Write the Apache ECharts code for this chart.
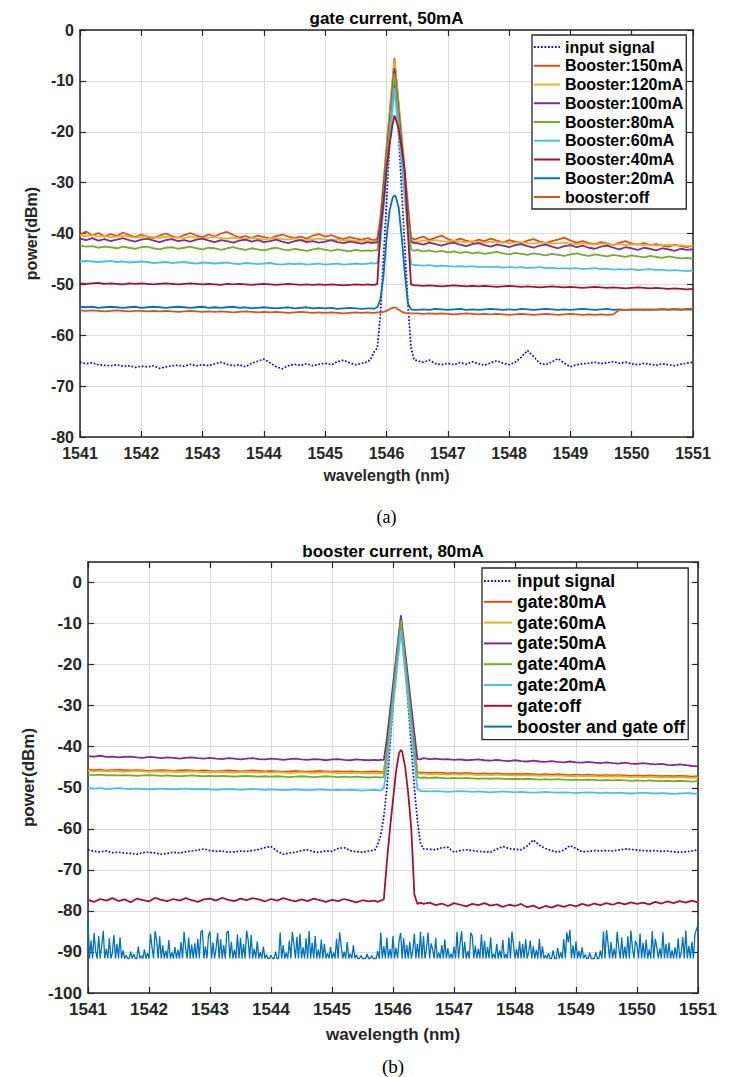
<!DOCTYPE html>
<html><head><meta charset="utf-8">
<script src="https://cdn.jsdelivr.net/npm/echarts@6/dist/echarts.min.js"></script>
<style>html,body{margin:0;padding:0;background:#fff}#c{width:752px;height:1077px}</style>
</head><body><div id="c"></div>
<script>
// ---------- wavelength grids (nm) ----------
const WL = [
1541,1541.1,1541.2,1541.3,1541.4,1541.5,1541.6,1541.7,1541.8,1541.9,
1542,1542.1,1542.2,1542.3,1542.4,1542.5,1542.6,1542.7,1542.8,1542.9,
1543,1543.1,1543.2,1543.3,1543.4,1543.5,1543.6,1543.7,1543.8,1543.9,
1544,1544.1,1544.2,1544.3,1544.4,1544.5,1544.6,1544.7,1544.8,1544.9,
1545,1545.1,1545.2,1545.3,1545.4,1545.5,1545.6,1545.7,
1545.75,1545.8,1545.85,1545.9,1545.95,1546,1546.05,1546.1,1546.13,1546.15,1546.2,1546.25,1546.3,1546.35,1546.4,1546.45,
1546.5,1546.6,1546.7,1546.8,1546.9,1547,1547.1,1547.2,1547.3,1547.4,
1547.5,1547.6,1547.7,1547.8,1547.9,1548,1548.1,1548.2,1548.3,1548.4,
1548.5,1548.6,1548.7,1548.8,1548.9,1549,1549.1,1549.2,1549.3,1549.4,
1549.5,1549.6,1549.7,1549.8,1549.9,1550,1550.1,1550.2,1550.3,1550.4,
1550.5,1550.6,1550.7,1550.8,1550.9,1551
];
const WL_FINE = [
1541,1541.025,1541.05,1541.075,1541.1,1541.125,1541.15,1541.175,1541.2,1541.225,1541.25,1541.275,1541.3,1541.325,1541.35,1541.375,1541.4,1541.425,1541.45,1541.475,1541.5,1541.525,1541.55,1541.575,1541.6,1541.625,1541.65,1541.675,1541.7,1541.725,1541.75,1541.775,1541.8,1541.825,1541.85,1541.875,1541.9,1541.925,1541.95,1541.975,
1542,1542.025,1542.05,1542.075,1542.1,1542.125,1542.15,1542.175,1542.2,1542.225,1542.25,1542.275,1542.3,1542.325,1542.35,1542.375,1542.4,1542.425,1542.45,1542.475,1542.5,1542.525,1542.55,1542.575,1542.6,1542.625,1542.65,1542.675,1542.7,1542.725,1542.75,1542.775,1542.8,1542.825,1542.85,1542.875,1542.9,1542.925,1542.95,1542.975,
1543,1543.025,1543.05,1543.075,1543.1,1543.125,1543.15,1543.175,1543.2,1543.225,1543.25,1543.275,1543.3,1543.325,1543.35,1543.375,1543.4,1543.425,1543.45,1543.475,1543.5,1543.525,1543.55,1543.575,1543.6,1543.625,1543.65,1543.675,1543.7,1543.725,1543.75,1543.775,1543.8,1543.825,1543.85,1543.875,1543.9,1543.925,1543.95,1543.975,
1544,1544.025,1544.05,1544.075,1544.1,1544.125,1544.15,1544.175,1544.2,1544.225,1544.25,1544.275,1544.3,1544.325,1544.35,1544.375,1544.4,1544.425,1544.45,1544.475,1544.5,1544.525,1544.55,1544.575,1544.6,1544.625,1544.65,1544.675,1544.7,1544.725,1544.75,1544.775,1544.8,1544.825,1544.85,1544.875,1544.9,1544.925,1544.95,1544.975,
1545,1545.025,1545.05,1545.075,1545.1,1545.125,1545.15,1545.175,1545.2,1545.225,1545.25,1545.275,1545.3,1545.325,1545.35,1545.375,1545.4,1545.425,1545.45,1545.475,1545.5,1545.525,1545.55,1545.575,1545.6,1545.625,1545.65,1545.675,1545.7,1545.725,1545.75,1545.775,1545.8,1545.825,1545.85,1545.875,1545.9,1545.925,1545.95,1545.975,
1546,1546.025,1546.05,1546.075,1546.1,1546.125,1546.15,1546.175,1546.2,1546.225,1546.25,1546.275,1546.3,1546.325,1546.35,1546.375,1546.4,1546.425,1546.45,1546.475,1546.5,1546.525,1546.55,1546.575,1546.6,1546.625,1546.65,1546.675,1546.7,1546.725,1546.75,1546.775,1546.8,1546.825,1546.85,1546.875,1546.9,1546.925,1546.95,1546.975,
1547,1547.025,1547.05,1547.075,1547.1,1547.125,1547.15,1547.175,1547.2,1547.225,1547.25,1547.275,1547.3,1547.325,1547.35,1547.375,1547.4,1547.425,1547.45,1547.475,1547.5,1547.525,1547.55,1547.575,1547.6,1547.625,1547.65,1547.675,1547.7,1547.725,1547.75,1547.775,1547.8,1547.825,1547.85,1547.875,1547.9,1547.925,1547.95,1547.975,
1548,1548.025,1548.05,1548.075,1548.1,1548.125,1548.15,1548.175,1548.2,1548.225,1548.25,1548.275,1548.3,1548.325,1548.35,1548.375,1548.4,1548.425,1548.45,1548.475,1548.5,1548.525,1548.55,1548.575,1548.6,1548.625,1548.65,1548.675,1548.7,1548.725,1548.75,1548.775,1548.8,1548.825,1548.85,1548.875,1548.9,1548.925,1548.95,1548.975,
1549,1549.025,1549.05,1549.075,1549.1,1549.125,1549.15,1549.175,1549.2,1549.225,1549.25,1549.275,1549.3,1549.325,1549.35,1549.375,1549.4,1549.425,1549.45,1549.475,1549.5,1549.525,1549.55,1549.575,1549.6,1549.625,1549.65,1549.675,1549.7,1549.725,1549.75,1549.775,1549.8,1549.825,1549.85,1549.875,1549.9,1549.925,1549.95,1549.975,
1550,1550.025,1550.05,1550.075,1550.1,1550.125,1550.15,1550.175,1550.2,1550.225,1550.25,1550.275,1550.3,1550.325,1550.35,1550.375,1550.4,1550.425,1550.45,1550.475,1550.5,1550.525,1550.55,1550.575,1550.6,1550.625,1550.65,1550.675,1550.7,1550.725,1550.75,1550.775,1550.8,1550.825,1550.85,1550.875,1550.9,1550.925,1550.95,1550.975,
1551
];

// ---------- (a) gate current 50mA : power (dBm) on WL ----------
const A_INPUT = [
-65.3,-65.6,-65.4,-65.8,-65.9,-66.0,-65.8,-66.1,-66.0,-66.3,
-66.1,-66.2,-66.0,-66.5,-66.2,-66.0,-65.9,-66.1,-65.7,-66.0,
-65.8,-66.0,-65.6,-65.3,-65.7,-66.0,-65.8,-66.2,-65.5,-65.1,
-64.7,-65.4,-66.2,-66.6,-66.0,-65.7,-65.9,-65.6,-66.0,-65.7,
-65.5,-65.8,-65.2,-64.9,-65.4,-65.8,-65.5,-65.2,
-64.5,-63.2,-62.5,-56.0,-45.0,-34.0,-23.0,-13.0,-10.5,-12.0,-21.0,-32.0,-43.0,-54.0,-62.5,-64.8,
-65.0,-65.3,-64.9,-65.6,-65.8,-65.5,-65.8,-65.4,-65.7,-65.2,
-65.6,-65.9,-65.4,-65.0,-65.5,-65.8,-65.3,-64.3,-63.0,-64.2,
-65.5,-65.8,-65.2,-64.6,-65.5,-66.2,-65.8,-65.6,-65.5,-65.3,
-65.6,-65.4,-65.2,-65.5,-65.3,-65.6,-65.8,-65.5,-65.7,-65.9,
-65.6,-65.8,-66.0,-65.7,-65.5,-65.3
];
const A_B150 = [
-40.2,-39.6,-40.4,-39.9,-40.6,-40.1,-40.5,-39.8,-40.3,-40.7,
-40.2,-40.6,-40.9,-40.4,-40.0,-40.5,-40.8,-40.3,-39.9,-40.4,
-40.7,-40.2,-40.6,-40.0,-39.7,-40.3,-40.8,-40.5,-40.9,-40.4,
-40.7,-41.0,-40.5,-40.2,-40.6,-40.9,-40.6,-41.0,-40.4,-40.1,
-40.6,-40.3,-40.8,-41.1,-40.7,-41.0,-41.2,-40.9,
-41.2,-41.3,-41.0,-36.9,-30.1,-23.2,-16.4,-9.6,-5.5,-8.1,-14.7,-21.3,-27.9,-34.4,-40.8,-41.2,
-41.0,-40.6,-41.3,-40.8,-40.4,-41.1,-41.5,-41.0,-41.4,-41.7,
-41.2,-41.5,-41.0,-41.4,-41.8,-41.3,-41.6,-41.9,-41.4,-41.1,
-41.6,-41.9,-41.5,-41.2,-40.8,-41.4,-41.8,-41.5,-41.9,-42.1,
-41.7,-42.0,-42.3,-41.8,-41.5,-42.0,-42.2,-41.9,-42.3,-42.1,
-42.4,-42.6,-42.2,-42.5,-42.7,-42.4
];
const A_B120 = [
-40.4,-40.5,-40.3,-40.6,-40.5,-40.7,-40.6,-40.4,-40.6,-40.8,
-40.7,-40.5,-40.7,-40.9,-40.6,-40.8,-40.7,-40.9,-40.6,-40.8,
-41.0,-40.8,-40.7,-40.9,-41.0,-40.8,-41.0,-41.1,-40.9,-41.0,
-41.2,-41.0,-40.9,-41.1,-41.2,-41.0,-41.2,-41.3,-41.1,-41.0,
-41.2,-41.3,-41.2,-41.4,-41.3,-41.5,-41.4,-41.5,
-41.5,-41.6,-41.5,-37.4,-30.6,-23.7,-16.9,-10.1,-6.0,-8.6,-15.2,-21.8,-28.4,-34.9,-41.3,-41.6,
-41.6,-41.4,-41.5,-41.3,-41.5,-41.6,-41.4,-41.6,-41.7,-41.5,
-41.7,-41.8,-41.6,-41.8,-41.7,-41.9,-41.8,-41.7,-41.9,-42.0,
-41.8,-41.9,-42.0,-41.9,-41.8,-42.0,-42.1,-41.9,-42.1,-42.2,
-42.0,-42.1,-42.2,-42.1,-42.3,-42.2,-42.1,-42.3,-42.2,-42.4,
-42.3,-42.2,-42.4,-42.3,-42.5,-42.4
];
const A_B100 = [
-41.0,-41.3,-40.9,-41.4,-41.1,-41.5,-41.2,-40.9,-41.3,-41.6,
-41.2,-41.0,-41.4,-41.7,-41.3,-41.1,-41.5,-41.3,-41.6,-41.2,
-41.0,-41.4,-41.7,-41.3,-41.5,-41.8,-41.4,-41.2,-41.6,-41.3,
-41.7,-41.5,-41.2,-41.6,-41.9,-41.5,-41.3,-41.7,-41.5,-41.8,
-41.6,-41.3,-41.7,-41.9,-41.6,-41.8,-42.0,-41.7,
-41.9,-41.8,-41.8,-37.9,-31.2,-24.7,-18.1,-11.4,-7.5,-10.0,-16.4,-22.7,-29.1,-35.5,-41.6,-41.9,
-41.9,-42.2,-41.8,-42.1,-42.4,-42.0,-41.8,-42.2,-42.5,-42.1,
-41.9,-42.3,-42.6,-42.2,-42.4,-42.7,-42.3,-42.1,-42.5,-42.8,
-42.4,-42.2,-42.6,-42.9,-42.5,-42.3,-42.7,-42.4,-42.8,-43.0,
-42.6,-42.4,-42.8,-43.1,-42.7,-42.9,-43.2,-42.8,-43.0,-43.3,
-42.9,-43.1,-43.4,-43.0,-43.2,-43.1
];
const A_B80 = [
-42.4,-42.6,-42.5,-42.8,-42.6,-42.7,-42.9,-42.6,-42.8,-43.0,
-42.7,-42.6,-42.9,-43.1,-42.8,-42.7,-43.0,-42.8,-42.6,-42.9,
-43.1,-42.8,-42.9,-43.2,-42.9,-42.7,-43.0,-43.2,-42.9,-43.1,
-43.3,-43.0,-42.8,-43.1,-43.3,-43.0,-43.2,-43.4,-43.1,-42.9,
-43.2,-43.4,-43.1,-43.3,-43.5,-43.2,-43.4,-43.3,
-43.4,-43.3,-43.3,-39.3,-32.6,-25.9,-19.2,-12.5,-8.5,-11.1,-17.5,-24.0,-30.4,-36.9,-43.1,-43.4,
-43.2,-43.5,-43.3,-43.6,-43.4,-43.7,-43.5,-43.8,-43.6,-43.9,
-43.7,-44.0,-43.8,-43.6,-43.9,-44.1,-43.8,-44.0,-44.2,-43.9,
-44.1,-44.3,-44.0,-44.2,-44.4,-44.1,-43.9,-44.2,-44.4,-44.1,
-44.3,-44.5,-44.2,-44.4,-44.6,-44.3,-44.5,-44.7,-44.4,-44.6,
-44.8,-44.5,-44.7,-44.9,-44.8,-45.0
];
const A_B60 = [
-45.5,-45.4,-45.5,-45.6,-45.5,-45.4,-45.6,-45.5,-45.7,-45.6,
-45.5,-45.6,-45.8,-45.7,-45.6,-45.8,-45.7,-45.6,-45.8,-45.9,
-45.7,-45.8,-45.9,-45.8,-45.7,-45.9,-46.0,-45.8,-45.9,-46.0,
-45.9,-45.8,-46.0,-46.1,-45.9,-46.0,-45.9,-46.1,-46.0,-45.9,
-46.1,-46.0,-45.9,-46.1,-46.0,-45.9,-46.0,-45.9,
-45.8,-45.9,-45.8,-42.0,-35.4,-28.8,-22.1,-15.5,-11.5,-14.1,-20.4,-26.8,-33.2,-39.6,-46.0,-46.2,
-46.2,-46.3,-46.2,-46.4,-46.3,-46.4,-46.5,-46.4,-46.5,-46.4,
-46.6,-46.5,-46.6,-46.5,-46.7,-46.6,-46.7,-46.6,-46.8,-46.7,
-46.6,-46.8,-46.7,-46.9,-46.8,-46.9,-46.8,-47.0,-46.9,-46.8,
-47.0,-46.9,-47.1,-47.0,-47.1,-47.0,-47.2,-47.1,-47.0,-47.2,
-47.1,-47.3,-47.2,-47.3,-47.4,-47.3
];
const A_B40 = [
-49.8,-49.9,-49.8,-49.7,-49.9,-49.8,-49.9,-50.0,-49.8,-49.9,
-49.8,-49.9,-50.0,-49.9,-49.8,-49.9,-50.0,-49.9,-49.8,-49.9,
-50.0,-49.9,-50.0,-50.1,-49.9,-50.0,-49.9,-50.0,-50.1,-50.0,
-49.9,-50.0,-50.1,-50.0,-49.9,-50.0,-50.1,-50.0,-50.1,-50.0,
-50.1,-50.0,-50.1,-50.2,-50.1,-50.0,-50.1,-50.0,
-50.1,-50.1,-49.9,-39.5,-34.0,-27.5,-22.5,-18.5,-16.8,-17.5,-19.5,-23.5,-28.0,-40.0,-50.0,-50.2,
-50.2,-50.3,-50.2,-50.3,-50.4,-50.3,-50.2,-50.3,-50.4,-50.3,
-50.4,-50.3,-50.4,-50.5,-50.4,-50.3,-50.4,-50.5,-50.4,-50.5,
-50.6,-50.5,-50.4,-50.5,-50.6,-50.5,-50.6,-50.7,-50.6,-50.5,
-50.6,-50.7,-50.6,-50.7,-50.8,-50.7,-50.6,-50.7,-50.8,-50.7,
-50.8,-50.9,-50.8,-50.9,-51.0,-50.9
];
const A_B20 = [
-54.4,-54.5,-54.4,-54.6,-54.5,-54.4,-54.5,-54.6,-54.5,-54.4,
-54.6,-54.5,-54.4,-54.5,-54.6,-54.5,-54.4,-54.5,-54.6,-54.5,
-54.4,-54.6,-54.5,-54.6,-54.5,-54.4,-54.6,-54.5,-54.7,-54.6,
-54.5,-54.6,-54.7,-54.6,-54.5,-54.7,-54.6,-54.5,-54.7,-54.6,
-54.7,-54.6,-54.8,-54.7,-54.6,-54.7,-54.8,-54.7,
-54.7,-54.8,-54.5,-53.0,-48.5,-41.0,-35.5,-33.0,-32.5,-32.7,-35.0,-41.0,-48.0,-53.8,-54.9,-55.0,
-55.0,-54.9,-55.0,-54.8,-54.9,-55.0,-54.9,-54.8,-55.0,-54.9,
-55.0,-54.9,-54.8,-54.9,-55.0,-54.9,-55.0,-54.8,-54.9,-55.0,
-54.9,-54.8,-54.9,-55.0,-54.9,-55.0,-54.9,-54.8,-54.9,-55.0,
-54.9,-54.8,-55.0,-54.9,-55.0,-55.0,-54.9,-55.0,-54.9,-55.0,
-54.9,-55.0,-54.9,-55.0,-54.9,-55.0
];
const A_BOFF = [
-55.1,-55.2,-55.1,-55.2,-55.3,-55.2,-55.1,-55.2,-55.3,-55.2,
-55.2,-55.3,-55.2,-55.3,-55.2,-55.3,-55.4,-55.3,-55.2,-55.3,
-55.4,-55.3,-55.4,-55.3,-55.4,-55.5,-55.4,-55.3,-55.4,-55.5,
-55.4,-55.5,-55.4,-55.5,-55.6,-55.5,-55.4,-55.5,-55.6,-55.5,
-55.6,-55.5,-55.6,-55.7,-55.6,-55.5,-55.6,-55.5,
-55.6,-55.6,-55.5,-55.5,-55.4,-55.2,-54.9,-54.6,-54.5,-54.6,-55.0,-55.4,-55.6,-55.7,-55.7,-55.7,
-55.7,-55.8,-55.7,-55.8,-55.7,-55.8,-55.9,-55.8,-55.7,-55.8,
-55.9,-55.8,-55.9,-55.8,-55.9,-56.0,-55.9,-55.8,-55.9,-56.0,
-55.9,-55.8,-55.9,-56.0,-55.9,-55.8,-55.9,-56.0,-55.9,-56.0,
-55.9,-56.0,-55.9,-55.0,-55.0,-54.9,-55.0,-54.9,-55.0,-54.9,
-54.8,-54.9,-54.8,-54.9,-54.8,-54.8
];

// ---------- (b) booster current 80mA : power (dBm) on WL ----------
const B_INPUT = [
-65.1,-65.5,-65.6,-65.4,-65.8,-65.7,-65.9,-66.0,-66.2,-65.8,
-65.7,-65.9,-66.2,-66.0,-65.7,-65.9,-65.6,-65.4,-65.2,-64.9,
-65.3,-65.5,-65.4,-65.7,-65.6,-65.4,-65.5,-65.3,-65.0,-64.6,
-64.3,-65.4,-66.2,-65.9,-65.7,-65.3,-65.1,-65.6,-65.7,-65.4,
-65.5,-64.8,-64.6,-65.3,-65.6,-65.7,-65.4,-65.2,
-63.8,-61.5,-57.0,-50.0,-40.0,-30.0,-20.0,-12.5,-10.5,-12.5,-20.0,-30.0,-40.0,-50.0,-58.0,-63.5,
-64.9,-65.0,-65.1,-64.6,-64.5,-65.7,-65.3,-65.1,-65.3,-65.5,
-65.6,-65.7,-65.0,-64.3,-64.8,-65.0,-65.1,-64.2,-62.7,-64.0,
-64.8,-65.3,-65.7,-65.2,-64.1,-64.8,-65.6,-65.5,-65.3,-65.4,
-65.3,-65.4,-65.2,-64.9,-65.0,-65.2,-65.3,-65.4,-65.3,-65.5,
-65.4,-65.6,-65.7,-65.6,-65.4,-65.1
];
const B_G80 = [
-45.6,-45.7,-45.6,-45.8,-45.7,-45.6,-45.7,-45.8,-45.7,-45.8,
-45.9,-45.8,-45.7,-45.8,-45.9,-45.8,-45.7,-45.8,-45.9,-45.8,
-45.9,-46.0,-45.9,-45.8,-45.9,-46.0,-45.9,-45.8,-45.9,-46.0,
-45.9,-46.0,-46.1,-46.0,-45.9,-46.0,-46.1,-46.0,-45.9,-46.0,
-46.1,-46.0,-46.1,-46.0,-46.1,-46.2,-46.1,-46.0,
-46.1,-46.2,-46.1,-40.7,-33.9,-27.1,-20.3,-13.6,-9.5,-12.2,-19.0,-25.8,-32.5,-39.3,-46.1,-46.3,
-46.3,-46.4,-46.3,-46.4,-46.5,-46.4,-46.5,-46.4,-46.5,-46.6,
-46.5,-46.6,-46.5,-46.6,-46.7,-46.6,-46.7,-46.6,-46.7,-46.8,
-46.7,-46.8,-46.7,-46.8,-46.9,-46.8,-46.9,-46.8,-46.9,-47.0,
-46.9,-47.0,-46.9,-47.0,-47.1,-47.0,-47.1,-47.0,-47.1,-47.2,
-47.1,-47.2,-47.1,-47.2,-47.3,-47.2
];
const B_G60 = [
-45.9,-46.0,-45.9,-46.0,-45.9,-46.0,-46.1,-46.0,-45.9,-46.0,
-46.1,-46.0,-46.1,-46.0,-46.1,-46.2,-46.1,-46.0,-46.1,-46.2,
-46.1,-46.2,-46.1,-46.2,-46.3,-46.2,-46.1,-46.2,-46.3,-46.2,
-46.3,-46.2,-46.3,-46.4,-46.3,-46.2,-46.3,-46.4,-46.3,-46.2,
-46.3,-46.4,-46.3,-46.4,-46.3,-46.4,-46.5,-46.4,
-46.4,-46.5,-46.4,-41.0,-34.2,-27.4,-20.6,-13.9,-9.8,-12.5,-19.3,-26.1,-32.9,-39.6,-46.4,-46.6,
-46.6,-46.7,-46.6,-46.7,-46.8,-46.7,-46.8,-46.7,-46.8,-46.9,
-46.8,-46.9,-46.8,-46.9,-47.0,-46.9,-47.0,-46.9,-47.0,-47.1,
-47.0,-47.1,-47.0,-47.1,-47.2,-47.1,-47.2,-47.1,-47.2,-47.3,
-47.2,-47.3,-47.2,-47.3,-47.4,-47.3,-47.4,-47.3,-47.4,-47.5,
-47.4,-47.5,-47.4,-47.5,-47.6,-47.5
];
const B_G50 = [
-42.3,-42.4,-42.2,-42.5,-42.4,-42.6,-42.5,-42.4,-42.6,-42.7,
-42.5,-42.6,-42.8,-42.6,-42.7,-42.9,-42.7,-42.6,-42.8,-42.9,
-42.7,-42.9,-43.0,-42.8,-42.9,-43.1,-42.9,-42.8,-43.0,-43.1,
-42.9,-43.0,-43.2,-43.0,-42.9,-43.1,-43.2,-43.0,-43.1,-43.3,
-43.1,-43.0,-43.2,-43.3,-43.1,-43.2,-43.3,-43.2,
-43.3,-43.2,-43.2,-38.0,-31.5,-24.9,-18.4,-11.9,-8.0,-10.6,-17.1,-23.6,-30.2,-36.7,-43.0,-43.1,
-42.8,-43.0,-42.9,-43.1,-43.0,-43.2,-43.1,-43.3,-43.2,-43.1,
-43.3,-43.4,-43.2,-43.4,-43.5,-43.3,-43.5,-43.6,-43.4,-43.6,
-43.7,-43.5,-43.7,-43.8,-43.6,-43.8,-43.9,-43.7,-43.9,-44.0,
-43.8,-44.0,-44.1,-43.9,-44.1,-44.2,-44.0,-44.2,-44.3,-44.2,
-44.4,-44.5,-44.3,-44.5,-44.7,-44.8
];
const B_G40 = [
-46.8,-46.9,-46.8,-47.0,-46.9,-47.0,-46.9,-47.0,-47.1,-47.0,
-46.9,-47.0,-47.1,-47.0,-47.1,-47.2,-47.1,-47.0,-47.1,-47.2,
-47.1,-47.2,-47.1,-47.2,-47.3,-47.2,-47.1,-47.2,-47.3,-47.2,
-47.3,-47.2,-47.3,-47.4,-47.3,-47.2,-47.3,-47.4,-47.3,-47.2,
-47.3,-47.4,-47.3,-47.4,-47.3,-47.4,-47.5,-47.4,
-47.4,-47.5,-47.4,-41.7,-34.7,-27.6,-20.5,-13.4,-9.2,-12.0,-19.1,-26.2,-33.3,-40.3,-47.4,-47.6,
-47.5,-47.6,-47.5,-47.6,-47.7,-47.6,-47.7,-47.6,-47.7,-47.8,
-47.7,-47.8,-47.7,-47.8,-47.9,-47.8,-47.9,-47.8,-47.9,-48.0,
-47.9,-48.0,-47.9,-48.0,-48.1,-48.0,-48.1,-48.0,-48.1,-48.2,
-48.1,-48.2,-48.1,-48.2,-48.3,-48.2,-48.3,-48.2,-48.3,-48.4,
-48.3,-48.4,-48.3,-48.4,-48.5,-48.4
];
const B_G20 = [
-50.1,-50.2,-50.1,-50.3,-50.2,-50.1,-50.2,-50.3,-50.2,-50.3,
-50.4,-50.3,-50.2,-50.3,-50.4,-50.3,-50.2,-50.3,-50.4,-50.3,
-50.4,-50.5,-50.4,-50.3,-50.4,-50.5,-50.4,-50.3,-50.4,-50.5,
-50.4,-50.5,-50.6,-50.5,-50.4,-50.5,-50.6,-50.5,-50.4,-50.5,
-50.6,-50.5,-50.6,-50.5,-50.6,-50.7,-50.6,-50.5,
-50.6,-50.7,-50.0,-44.9,-37.7,-30.5,-23.3,-16.1,-11.8,-14.7,-21.9,-29.0,-36.2,-43.4,-50.3,-50.8,
-50.8,-50.9,-50.8,-50.9,-51.0,-50.9,-50.8,-50.9,-51.0,-50.9,
-51.0,-51.1,-51.0,-50.9,-51.0,-51.1,-51.0,-51.1,-51.2,-51.1,
-51.0,-51.1,-51.2,-51.1,-51.2,-51.3,-51.2,-51.1,-51.2,-51.3,
-51.2,-51.3,-51.2,-51.3,-51.4,-51.3,-51.2,-51.3,-51.4,-51.3,
-51.4,-51.5,-51.4,-51.3,-51.4,-51.5
];
const B_GOFF = [
-77.3,-77.8,-77.1,-77.5,-76.9,-77.6,-77.2,-77.9,-77.0,-77.4,
-77.7,-76.8,-77.3,-77.6,-77.1,-77.5,-76.9,-77.4,-77.8,-77.2,
-77.0,-77.5,-76.8,-77.3,-77.6,-77.0,-77.4,-76.9,-77.2,-77.7,
-77.1,-77.5,-76.9,-77.3,-77.7,-77.2,-77.6,-77.0,-77.4,-77.8,
-77.3,-77.6,-77.1,-77.5,-77.9,-77.4,-77.7,-77.5,
-77.8,-77.5,-77.2,-68.0,-60.0,-53.0,-46.0,-41.5,-40.8,-41.2,-45.0,-51.5,-60.0,-76.0,-78.3,-78.0,
-78.3,-78.0,-78.6,-78.2,-78.8,-78.1,-78.5,-78.9,-78.3,-78.6,
-78.1,-78.7,-78.4,-79.0,-78.5,-78.8,-78.3,-79.1,-78.7,-79.4,
-78.8,-79.2,-78.6,-79.0,-78.5,-78.9,-78.3,-78.7,-78.2,-78.6,
-78.1,-78.5,-78.0,-78.4,-77.9,-78.3,-78.0,-78.4,-77.8,-78.2,
-77.7,-78.1,-77.6,-78.0,-77.5,-77.9
];
// booster and gate off (on WL_FINE)
const B_BGOFF = [
-82.5,-91.6,-87.2,-91.6,-85.4,-89.8,-91.6,-86.1,-91.6,-88.5,
-84.9,-91.6,-89.3,-91.6,-86.7,-91.6,-90.2,-85.8,-91.6,-88.0,
-91.6,-86.4,-91.6,-89.6,-91.6,-90.8,-91.6,-91.6,-89.9,-91.6,
-90.5,-91.6,-91.6,-88.7,-91.6,-90.9,-91.6,-89.4,-91.6,-90.3,
-91.6,-85.6,-88.9,-91.6,-84.9,-87.3,-91.6,-86.2,-91.6,-88.4,
-91.6,-89.7,-91.6,-87.1,-91.6,-90.1,-91.6,-88.8,-91.6,-89.5,
-91.6,-87.6,-91.6,-85.1,-89.0,-91.6,-86.5,-91.6,-88.2,-91.6,
-87.9,-91.6,-86.8,-91.6,-85.2,-84.7,-91.6,-88.6,-91.6,-86.0,
-85.0,-91.6,-87.7,-91.6,-89.1,-85.4,-91.6,-86.9,-91.6,-88.3,
-91.6,-85.3,-84.9,-91.6,-87.5,-91.6,-89.4,-91.6,-85.7,-91.6,
-86.6,-91.6,-88.1,-91.6,-84.8,-87.0,-91.6,-85.9,-91.6,-89.2,
-91.6,-87.4,-91.6,-90.0,-91.6,-88.7,-91.6,-90.6,-91.6,-91.6,
-90.8,-91.6,-91.6,-89.9,-91.6,-91.6,-85.3,-91.6,-88.4,-91.6,
-90.2,-91.6,-87.3,-91.6,-85.1,-88.0,-91.6,-86.3,-91.6,-85.6,
-91.6,-88.9,-91.6,-86.7,-91.6,-84.9,-91.6,-87.8,-91.6,-86.1,
-91.6,-89.4,-91.6,-87.0,-91.6,-88.1,-91.6,-90.3,-91.6,-88.8,
-91.6,-90.2,-91.6,-86.8,-91.6,-85.2,-88.5,-91.6,-89.9,-91.6,
-87.6,-91.6,-90.4,-91.6,-88.4,-91.6,-90.7,-91.6,-91.6,-90.9,
-91.6,-91.6,-91.6,-90.5,-91.6,-91.6,-90.9,-91.6,-91.6,-91.6,
-89.8,-91.6,-85.3,-91.6,-88.6,-91.6,-86.5,-91.6,-89.3,-91.6,
-86.1,-91.6,-89.0,-91.6,-87.2,-85.4,-91.6,-86.7,-91.6,-88.3,
-91.6,-87.5,-91.6,-89.6,-85.6,-91.6,-88.0,-91.6,-85.0,-91.6,
-86.2,-91.6,-89.1,-85.3,-91.6,-87.9,-89.4,-91.6,-86.6,-91.6,
-90.2,-91.6,-88.3,-91.6,-87.0,-91.6,-89.1,-91.6,-90.4,-91.6,
-88.7,-91.6,-85.1,-91.6,-87.9,-84.9,-91.6,-87.6,-91.6,-89.8,
-91.6,-85.3,-86.1,-91.6,-88.5,-91.6,-89.2,-91.6,-85.7,-91.6,
-87.3,-91.6,-88.8,-91.6,-86.4,-91.6,-90.4,-91.6,-88.0,-91.6,
-89.6,-91.6,-87.1,-91.6,-90.5,-91.6,-86.4,-91.6,-85.0,-88.2,
-91.6,-89.3,-91.6,-87.4,-91.6,-88.1,-91.6,-86.9,-91.6,-90.0,
-87.2,-91.6,-88.6,-91.6,-89.5,-91.6,-86.8,-91.6,-88.6,-91.6,
-90.8,-91.6,-90.3,-91.6,-91.6,-89.6,-91.6,-91.6,-89.0,-91.6,
-90.1,-91.6,-86.9,-91.6,-85.2,-87.7,-84.6,-91.6,-88.4,-91.6,
-87.4,-91.6,-89.8,-91.6,-88.9,-91.6,-90.6,-91.6,-91.6,-90.2,
-91.6,-91.6,-91.6,-90.1,-91.6,-91.6,-89.7,-91.6,-85.0,-91.6,
-84.7,-87.9,-91.6,-87.6,-91.6,-89.2,-91.6,-85.1,-88.9,-91.6,
-86.5,-91.6,-88.7,-91.6,-86.2,-91.6,-84.8,-89.0,-91.6,-87.3,
-88.3,-91.6,-85.5,-91.6,-87.8,-91.6,-87.0,-91.6,-89.4,-91.6,
-84.9,-91.6,-86.8,-88.9,-91.6,-89.1,-91.6,-85.2,-91.6,-88.0,
-91.6,-87.7,-91.6,-89.6,-91.6,-88.9,-91.6,-86.7,-91.6,-90.2,
-86.4,-91.6,-84.8,-91.6,-88.5,-91.6,-87.5,-91.6,-85.6,-84.5,
-83.5
];

// ---------- names / ticks ----------
const NAMES_A = ['input signal','Booster:150mA','Booster:120mA','Booster:100mA','Booster:80mA','Booster:60mA','Booster:40mA','Booster:20mA','booster:off'];
const NAMES_B = ['input signal','gate:80mA','gate:60mA','gate:50mA','gate:40mA','gate:20mA','gate:off','booster and gate off'];
const X_RANGE = [1541, 1551, 1];
const Y_RANGE_A = [-80, 0, 10];
const Y_RANGE_B = [-100, 5, 10];

// ---------- styling ----------
const FF = '"Liberation Sans", Arial, Helvetica, sans-serif';
const AX = '#262626';
const C_IN = '#0000ff';
const COLORS_A = ['#D95319','#EDB120','#7E2F8E','#77AC30','#4DBEEE','#A2142F','#0072BD','#D95319'];
const COLORS_B = ['#D95319','#EDB120','#7E2F8E','#77AC30','#4DBEEE','#A2142F','#0072BD'];

function zip(xs, ys){ return xs.map((x,i)=>[x, ys[i]]); }
const plain = v => String(v);

function xAxes(g, fs, margin, gap){
  const base = {type:'value', gridIndex:g, min:X_RANGE[0], max:X_RANGE[1], interval:X_RANGE[2]};
  return [
    Object.assign({}, base, {position:'bottom',
      axisLine:{show:true,onZero:false,lineStyle:{color:AX,width:1.5}},
      axisTick:{show:true,inside:true,length:6,lineStyle:{color:AX,width:1.2}},
      axisLabel:{color:AX,fontSize:fs,fontWeight:'bold',fontFamily:FF,margin:margin,formatter:plain},
      splitLine:{show:true,lineStyle:{color:'#dcdcdc',width:1}},
      name:'wavelength (nm)', nameLocation:'middle', nameGap:gap,
      nameTextStyle:{color:AX,fontSize:fs,fontWeight:'bold',fontFamily:FF}}),
    Object.assign({}, base, {position:'top',
      axisLine:{show:true,onZero:false,lineStyle:{color:AX,width:1.5}},
      axisTick:{show:true,inside:true,length:6,lineStyle:{color:AX,width:1.2}},
      axisLabel:{show:false}, splitLine:{show:false}})
  ];
}
function yAxes(g, rng, fs, margin, gap, hideMax){
  const base = {type:'value', gridIndex:g, min:rng[0], max:rng[1], interval:rng[2]};
  return [
    Object.assign({}, base, {position:'left',
      axisLine:{show:true,onZero:false,lineStyle:{color:AX,width:1.5}},
      axisTick:{show:true,inside:true,length:6,lineStyle:{color:AX,width:1.2}},
      axisLabel:{color:AX,fontSize:fs,fontWeight:'bold',fontFamily:FF,margin:margin,showMaxLabel:!hideMax,formatter:plain},
      splitLine:{show:true,lineStyle:{color:'#dcdcdc',width:1}},
      name:'power(dBm)', nameLocation:'middle', nameGap:gap, nameRotate:90,
      nameTextStyle:{color:AX,fontSize:fs,fontWeight:'bold',fontFamily:FF}}),
    Object.assign({}, base, {position:'right',
      axisLine:{show:true,onZero:false,lineStyle:{color:AX,width:1.5}},
      axisTick:{show:true,inside:true,length:6,lineStyle:{color:AX,width:1.2}},
      axisLabel:{show:false}, splitLine:{show:false}})
  ];
}
function line(name, data, color, xi, yi, dotted, w){
  return {type:'line', name:name, data:data, xAxisIndex:xi, yAxisIndex:yi,
    symbol:'none', showSymbol:false, animation:false, clip:true,
    lineStyle:{color:color, width:w||1.8, type:dotted?[1.7,1.8]:'solid'},
    itemStyle:{color:color}};
}

const A_DATA = [A_B150,A_B120,A_B100,A_B80,A_B60,A_B40,A_B20,A_BOFF];
const B_DATA = [B_G80,B_G60,B_G50,B_G40,B_G20,B_GOFF];

const series = [];
series.push(line(NAMES_A[0], zip(WL, A_INPUT), C_IN, 0, 0, true, 1.7));
A_DATA.forEach((d,i)=>series.push(line(NAMES_A[i+1], zip(WL, d), COLORS_A[i], 0, 0, false)));
series.push(line(NAMES_B[0], zip(WL, B_INPUT), C_IN, 2, 2, true, 1.7));
B_DATA.forEach((d,i)=>series.push(line(NAMES_B[i+1], zip(WL, d), COLORS_B[i], 2, 2, false)));
series.push(line(NAMES_B[7], zip(WL_FINE, B_BGOFF), COLORS_B[6], 2, 2, false, 1.3));

function legend(names, left, top, fs, iw, ih, gap){
  return {orient:'vertical', left:left, top:top, data:names, selectedMode:false,
    itemWidth:iw, itemHeight:ih, itemGap:gap, padding:[4,3,4,1],
    itemStyle:{opacity:0, borderWidth:0},
    borderColor:AX, borderWidth:1.3, backgroundColor:'#fff', borderRadius:0,
    textStyle:{fontSize:fs, fontWeight:'bold', color:'#000', fontFamily:FF}};
}
function txt(t, x, y, font){
  return {type:'text', silent:true, z:100,
    style:{text:t, x:x, y:y, textAlign:'center', textVerticalAlign:'middle', align:'center', verticalAlign:'middle', font:font, fill:'#000'}};
}

const option = {
  animation:false,
  backgroundColor:'#fff',
  grid:[
    {left:80, top:30, width:613, height:407, containLabel:false},
    {left:88, top:562, width:610, height:431, containLabel:false}
  ],
  xAxis: xAxes(0, 16, 8, 30).concat(xAxes(1, 17, 8, 33)),
  yAxis: yAxes(0, Y_RANGE_A, 16, 6, 36, false).concat(yAxes(1, Y_RANGE_B, 17, 6, 45, true)),
  legend:[
    legend(NAMES_A, 532, 35, 16, 26, 16, 2.75),
    legend(NAMES_B, 482, 568, 17.5, 28, 17.5, 2.8)
  ],
  graphic:[
    txt('gate current, 50mA', 386.5, 18, 'bold 17px '+FF),
    txt('booster current, 80mA', 393, 551, 'bold 17px '+FF),
    txt('(a)', 386.5, 517, '18px "Liberation Serif", "Times New Roman", serif'),
    txt('(b)', 393, 1066, '19px "Liberation Serif", "Times New Roman", serif')
  ],
  series: series
};
const chart = echarts.init(document.getElementById('c'), null, {renderer:'svg', width:752, height:1077});
chart.setOption(option);
</script>
</body></html>
